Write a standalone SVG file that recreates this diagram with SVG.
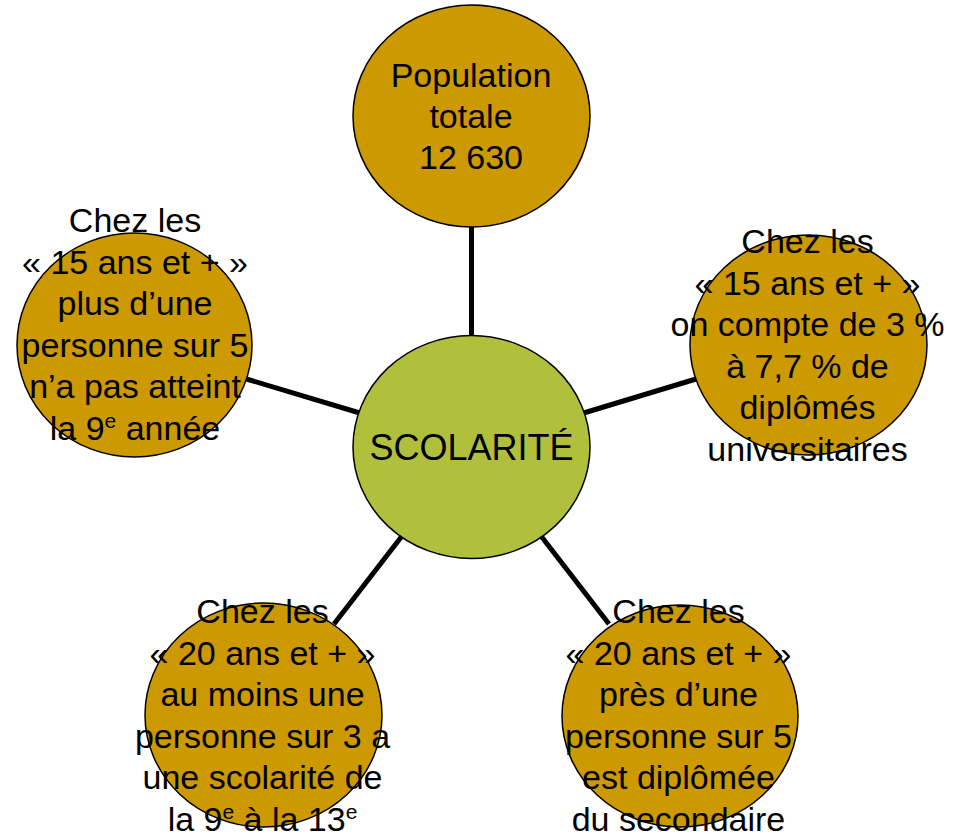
<svg xmlns="http://www.w3.org/2000/svg" width="960" height="834" viewBox="0 0 960 834">
<style>
.node{fill:#CC9900;stroke:#000;stroke-width:1.5}
.hub{fill:#B0BF3C;stroke:#000;stroke-width:1.5}
.conn{stroke:#000;stroke-width:5;fill:none}
text{font-family:"Liberation Sans",Arial,sans-serif;font-size:34px;fill:#000;text-anchor:middle}
.big{font-size:36px}
.sup{font-size:21px}
</style>
<rect width="960" height="834" fill="#fff"/>
<g id="connectors">
<line class="conn" x1="471.5" y1="227" x2="471.5" y2="336"/>
<line class="conn" x1="246.5" y1="379" x2="361.5" y2="413.5"/>
<line class="conn" x1="582" y1="413.5" x2="696" y2="379"/>
<line class="conn" x1="402" y1="536" x2="334" y2="624"/>
<line class="conn" x1="541" y1="536" x2="609" y2="624"/>
</g>
<g id="node-center">
<ellipse class="hub" cx="471.5" cy="447" rx="118.5" ry="111.5"/>
<text class="big" x="471.5" y="460">SCOLARITÉ</text>
</g>
<g id="node-top">
<ellipse class="node" cx="471.5" cy="116" rx="118.5" ry="111"/>
<text x="471" y="87">Population</text>
<text x="471" y="128">totale</text>
<text x="471" y="169">12 630</text>
</g>
<g id="node-left">
<ellipse class="node" cx="134.5" cy="345" rx="117.5" ry="112"/>
<text x="135" y="232">Chez les</text>
<text x="135" y="273.5">« 15 ans et + »</text>
<text x="135" y="315">plus d’une</text>
<text x="135" y="356.5">personne sur 5</text>
<text x="135" y="398">n’a pas atteint</text>
<text x="135" y="439.5">la 9<tspan class="sup" dy="-12">e</tspan><tspan dy="12"> année</tspan></text>
</g>
<g id="node-right">
<ellipse class="node" cx="808.5" cy="345" rx="118.5" ry="110"/>
<text x="807.5" y="253">Chez les</text>
<text x="807.5" y="294.5">« 15 ans et + »</text>
<text x="807.5" y="336">on compte de 3 %</text>
<text x="807.5" y="377.5">à 7,7 % de</text>
<text x="807.5" y="419">diplômés</text>
<text x="807.5" y="460.5">universitaires</text>
</g>
<g id="node-bottom-left">
<ellipse class="node" cx="263.5" cy="715" rx="118.5" ry="112"/>
<text x="262.5" y="623">Chez les</text>
<text x="262.5" y="664.5">« 20 ans et + »</text>
<text x="262.5" y="706">au moins une</text>
<text x="262.5" y="747.5">personne sur 3 a</text>
<text x="262.5" y="789">une scolarité de</text>
<text x="262.5" y="830.5">la 9<tspan class="sup" dy="-12">e</tspan><tspan dy="12"> à la 13</tspan><tspan class="sup" dy="-12">e</tspan></text>
</g>
<g id="node-bottom-right">
<ellipse class="node" cx="680" cy="716" rx="118" ry="111"/>
<text x="678.5" y="623">Chez les</text>
<text x="678.5" y="664.5">« 20 ans et + »</text>
<text x="678.5" y="706">près d’une</text>
<text x="678.5" y="747.5">personne sur 5</text>
<text x="678.5" y="789">est diplômée</text>
<text x="678.5" y="830.5">du secondaire</text>
</g>
</svg>
